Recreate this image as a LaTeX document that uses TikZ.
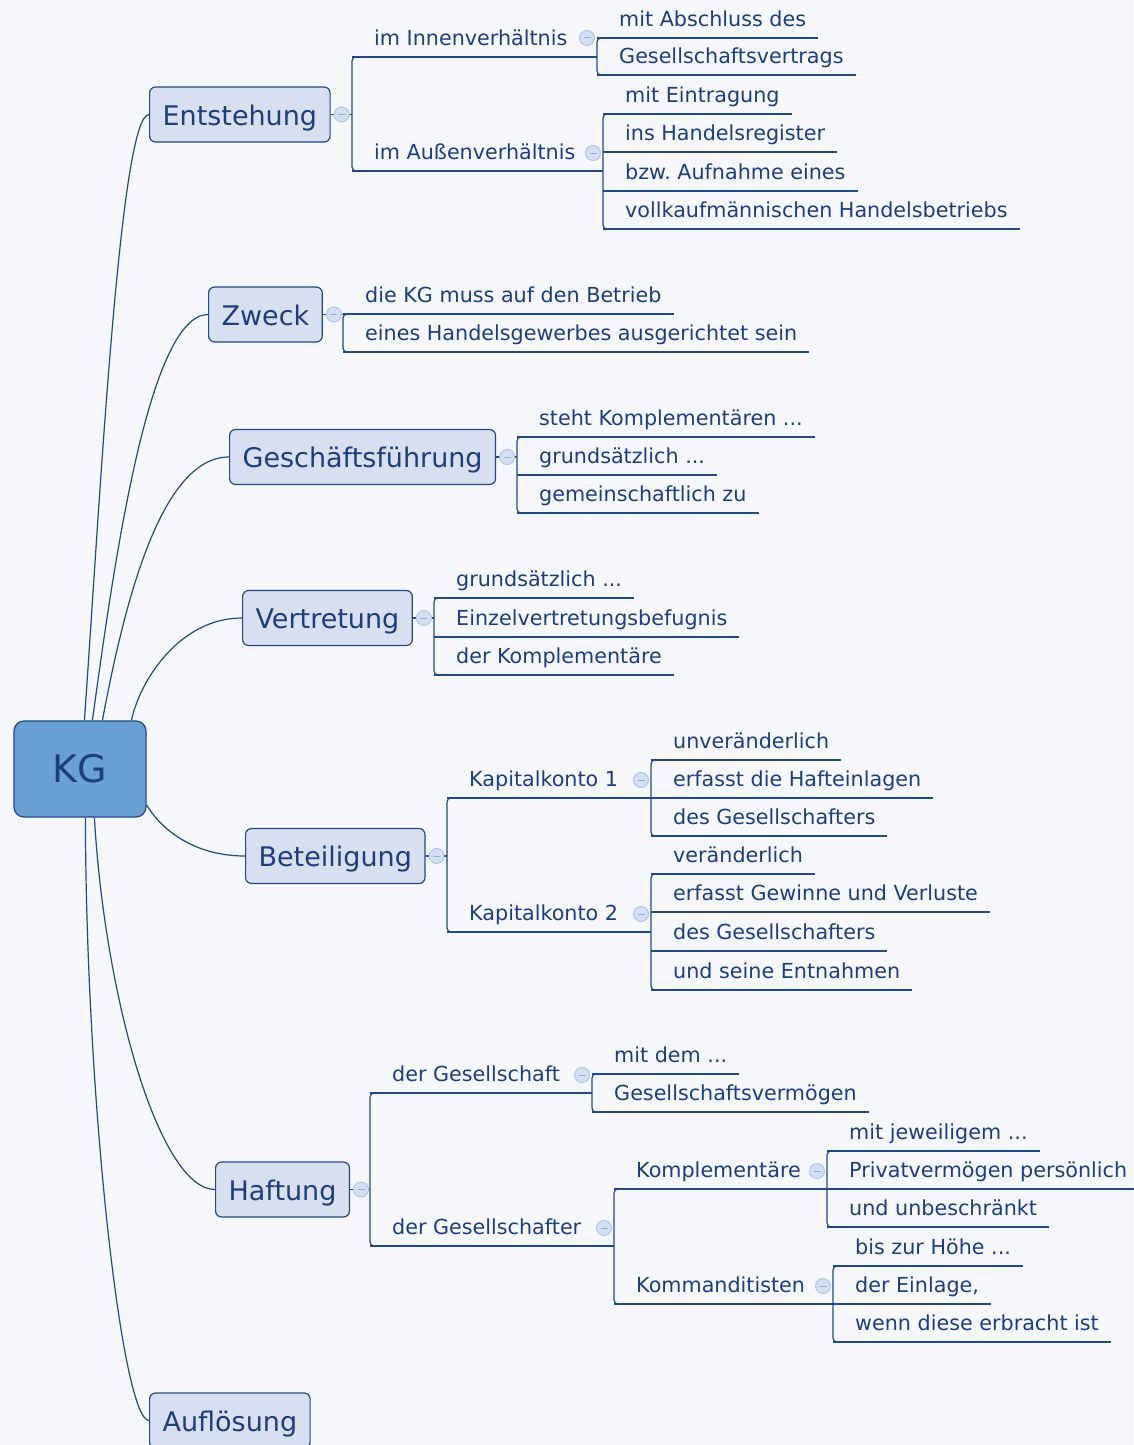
\documentclass[tikz,border=0pt]{standalone}
\usepackage{fontspec}
\setmainfont{DejaVu Sans}
\frenchspacing
\usetikzlibrary{calc}
\definecolor{bgc}{HTML}{F5F7FB}
\definecolor{txt}{HTML}{1E3E7B}
\definecolor{ln}{HTML}{24487F}
\definecolor{tfill}{HTML}{D8DFF0}
\definecolor{kgfill}{HTML}{6AA1D5}
\definecolor{cfill}{HTML}{D3DFF3}
\definecolor{cdraw}{HTML}{B2C7E8}
\definecolor{cminus}{HTML}{94ADD8}
\newcommand\leafx[1]{\hspace*{22pt}#1\hspace*{12pt}}
\newcommand\subx[1]{\hspace*{22pt}#1}
\newcommand\grpx[2]{\draw[tree] ([xshift=12pt]#1.south west) -- (#1.south west) -- (#2.south west) -- ([xshift=12pt]#2.south west);}
\newcommand\ulx[1]{\draw[conn] (#1.south west) -- (#1.south east);}
\tikzset{
 topic/.style={draw=ln, fill=tfill, line width=1.2pt, rounded corners=6pt, font=\fontsize{27}{32}\selectfont, text=txt, minimum height=55pt, inner xsep=13pt, inner ysep=0pt, text height=26pt, text depth=5pt, anchor=west},
 root/.style={draw=ln, fill=kgfill, line width=1.2pt, rounded corners=10pt, font=\fontsize{38}{44}\selectfont, text=txt, minimum width=132pt, minimum height=96pt, text height=30pt, text depth=4pt},
 leaf/.style={anchor=south west, inner sep=0pt, font=\fontsize{20.7}{24}\selectfont, text=txt, text depth=11.5pt},
 tree/.style={draw=ln, line width=1.2pt, rounded corners=4pt},
 conn/.style={draw=ln, line width=1.2pt},
 coll/.style={circle, minimum size=15pt, inner sep=0pt, fill=cfill, draw=cdraw, line width=1pt,
   path picture={\draw[cminus, line width=1pt] ([xshift=-3.5pt]path picture bounding box.center) -- ([xshift=3.5pt]path picture bounding box.center);}},
}
\begin{document}
\begin{tikzpicture}[x=1pt,y=-1pt]
\useasboundingbox (0,0) rectangle (1133,1445);
\fill[bgc] (0,0) rectangle (1133,1445);

% root and topics
\node[root] (kg) at (80,769) {KG};
\node[topic] (ent) at (149,114.5) {Entstehung};
\node[topic] (zw) at (208,314.5) {Zweck};
\node[topic] (gf) at (229,457) {Geschäftsführung};
\node[topic] (ve) at (242,618) {Vertretung};
\node[topic] (be) at (245,856) {Beteiligung};
\node[topic] (ha) at (215,1189.5) {Haftung};
\node[topic] (au) at (149,1420.5) {Auflösung};

% Entstehung
\node[leaf] (e1) at (352,57) {\subx{im Innenverhältnis}};
\node[leaf] (e2) at (352,171) {\subx{im Außenverhältnis}};
\node[leaf] (e11) at (597,38) {\leafx{mit Abschluss des}};
\node[leaf] (e12) at (597,75) {\leafx{Gesellschaftsvertrags}};
\node[leaf] (e21) at (603,114) {\leafx{mit Eintragung}};
\node[leaf] (e22) at (603,152) {\leafx{ins Handelsregister}};
\node[leaf] (e23) at (603,191) {\leafx{bzw. Aufnahme eines}};
\node[leaf] (e24) at (603,229) {\leafx{vollkaufmännischen Handelsbetriebs}};

% Zweck
\node[leaf] (z1) at (343,314) {\leafx{die KG muss auf den Betrieb}};
\node[leaf] (z2) at (343,352) {\leafx{eines Handelsgewerbes ausgerichtet sein}};

% Geschaeftsfuehrung
\node[leaf] (g1) at (517,437) {\leafx{steht Komplementären ...}};
\node[leaf] (g2) at (517,475) {\leafx{grundsätzlich ...}};
\node[leaf] (g3) at (517,513) {\leafx{gemeinschaftlich zu}};

% Vertretung
\node[leaf] (v1) at (434,598) {\leafx{grundsätzlich ...}};
\node[leaf] (v2) at (434,637) {\leafx{Einzelvertretungsbefugnis}};
\node[leaf] (v3) at (434,675) {\leafx{der Komplementäre}};

% Beteiligung
\node[leaf] (b1) at (447,798) {\subx{Kapitalkonto 1}};
\node[leaf] (b2) at (447,932) {\subx{Kapitalkonto 2}};
\node[leaf] (b11) at (651,760) {\leafx{unveränderlich}};
\node[leaf] (b12) at (651,798) {\leafx{erfasst die Hafteinlagen}};
\node[leaf] (b13) at (651,836) {\leafx{des Gesellschafters}};
\node[leaf] (b21) at (651,874) {\leafx{veränderlich}};
\node[leaf] (b22) at (651,912) {\leafx{erfasst Gewinne und Verluste}};
\node[leaf] (b23) at (651,951) {\leafx{des Gesellschafters}};
\node[leaf] (b24) at (651,990) {\leafx{und seine Entnahmen}};

% Haftung
\node[leaf] (h1) at (370,1093) {\subx{der Gesellschaft}};
\node[leaf] (h2) at (370,1246) {\subx{der Gesellschafter}};
\node[leaf] (h11) at (592,1074) {\leafx{mit dem ...}};
\node[leaf] (h12) at (592,1112) {\leafx{Gesellschaftsvermögen}};
\node[leaf] (h21) at (614,1189) {\subx{Komplementäre}};
\node[leaf] (h22) at (614,1304) {\subx{Kommanditisten}};
\node[leaf] (h211) at (827,1151) {\leafx{mit jeweiligem ...}};
\node[leaf] (h212) at (827,1189) {\leafx{Privatvermögen persönlich}};
\node[leaf] (h213) at (827,1227) {\leafx{und unbeschränkt}};
\node[leaf] (h221) at (833,1266) {\leafx{bis zur Höhe ...}};
\node[leaf] (h222) at (833,1304) {\leafx{der Einlage,}};
\node[leaf] (h223) at (833,1342) {\leafx{wenn diese erbracht ist}};

% curves from KG
\coordinate (k1) at ([xshift=71pt]kg.north west);
\coordinate (k2) at ([xshift=79pt]kg.north west);
\coordinate (k3) at ([xshift=89pt]kg.north west);
\coordinate (k4) at ([xshift=118pt]kg.north west);
\coordinate (k5) at ([yshift=-36pt]kg.east);
\coordinate (k6) at ([xshift=81pt]kg.south west);
\coordinate (k7) at ([xshift=72pt]kg.south west);
\draw[conn] (k1) .. controls (100,500) and (120,114.5) .. (ent.west);
\draw[conn] (k2) .. controls (113,571) and (148,314.5) .. (zw.west);
\draw[conn] (k3) .. controls (123,611) and (159,457) .. (gf.west);
\draw[conn] (k4) .. controls (140,680) and (180,618) .. (ve.west);
\draw[conn] (k5) .. controls (165,835) and (200,856) .. (be.west);
\draw[conn] (k6) .. controls (105,1000) and (160,1189.5) .. (ha.west);
\draw[conn] (k7) .. controls (86,1100) and (122,1420.5) .. (au.west);

% topic stubs
\draw[conn] (ent.east) -- (ent.east -| e1.south west);
\draw[conn] (zw.east) -- (zw.east -| z1.south west);
\draw[conn] (gf.east) -- (gf.east -| g1.south west);
\draw[conn] (ve.east) -- (ve.east -| v1.south west);
\draw[conn] (be.east) -- (be.east -| b1.south west);
\draw[conn] (ha.east) -- (ha.east -| h1.south west);

% Entstehung tree
\grpx{e1}{e2}
\draw[conn] (e1.south west) -- (e1.south west -| e11.south west);
\draw[conn] (e2.south west) -- (e2.south west -| e21.south west);
\grpx{e11}{e12}
\ulx{e11}\ulx{e12}
\grpx{e21}{e24}
\ulx{e21}\ulx{e22}\ulx{e23}\ulx{e24}

% Zweck tree
\grpx{z1}{z2}
\ulx{z1}\ulx{z2}

% Geschaeftsfuehrung tree
\grpx{g1}{g3}
\ulx{g1}\ulx{g2}\ulx{g3}

% Vertretung tree
\grpx{v1}{v3}
\ulx{v1}\ulx{v2}\ulx{v3}

% Beteiligung tree
\grpx{b1}{b2}
\draw[conn] (b1.south west) -- (b1.south west -| b11.south west);
\draw[conn] (b2.south west) -- (b2.south west -| b21.south west);
\grpx{b11}{b13}
\ulx{b11}\ulx{b12}\ulx{b13}
\grpx{b21}{b24}
\ulx{b21}\ulx{b22}\ulx{b23}\ulx{b24}

% Haftung tree
\grpx{h1}{h2}
\draw[conn] (h1.south west) -- (h1.south west -| h11.south west);
\draw[conn] (h2.south west) -- (h2.south west -| h21.south west);
\grpx{h11}{h12}
\ulx{h11}\ulx{h12}
\grpx{h21}{h22}
\draw[conn] (h21.south west) -- (h21.south west -| h211.south west);
\draw[conn] (h22.south west) -- (h22.south west -| h221.south west);
\grpx{h211}{h213}
\ulx{h211}\ulx{h212}\ulx{h213}
\grpx{h221}{h223}
\ulx{h221}\ulx{h222}\ulx{h223}

% collapse markers
\node[coll] (ce) at ([xshift=11pt]ent.east) {};
\node[coll] (cz) at ([xshift=11pt]zw.east) {};
\node[coll] (cg) at ([xshift=11pt]gf.east) {};
\node[coll] (cv) at ([xshift=11pt]ve.east) {};
\node[coll] (cb) at ([xshift=11pt]be.east) {};
\node[coll] (ch) at ([xshift=11pt]ha.east) {};
\node[coll] (ce1) at (587,38) {};
\node[coll] (ce2) at (593,153) {};
\node[coll] (cb1) at (641,780) {};
\node[coll] (cb2) at (641,914) {};
\node[coll] (ch1) at (582,1075) {};
\node[coll] (ch2) at (604,1228) {};
\node[coll] (ch21) at (817,1171) {};
\node[coll] (ch22) at (823,1286) {};
\end{tikzpicture}
\end{document}
